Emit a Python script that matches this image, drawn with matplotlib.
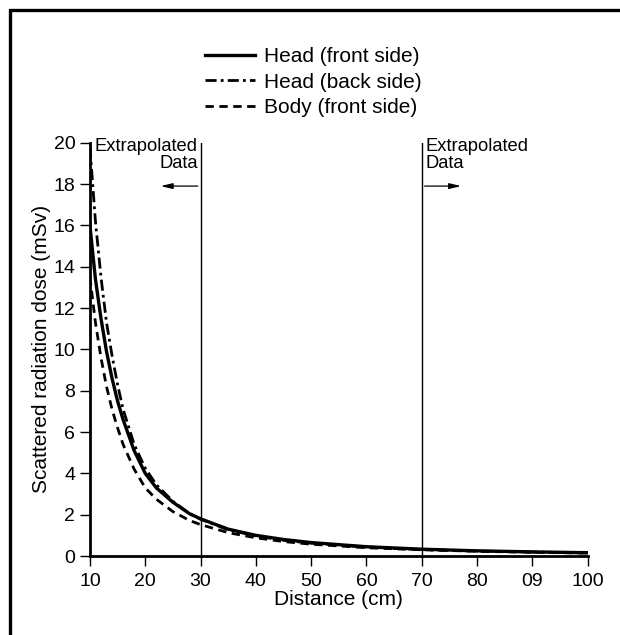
import matplotlib
matplotlib.use("Agg")
import matplotlib.pyplot as plt
from matplotlib.patches import Rectangle

plt.rcParams["font.family"] = ["Liberation Sans", "DejaVu Sans"]

# distance (cm) and dose (mSv)
distance = [10, 11, 12, 13, 14, 15, 16, 18, 20, 22, 25, 28, 30, 35, 40, 45, 50, 60, 70, 80, 90, 100]
head_front = [16.0, 13.4, 11.5, 9.9, 8.6, 7.5, 6.6, 5.1, 4.0, 3.3, 2.6, 2.05, 1.8, 1.3, 1.0, 0.8, 0.65, 0.45, 0.33, 0.25, 0.2, 0.16]
head_back = [19.8, 16.2, 13.5, 11.3, 9.7, 8.3, 7.1, 5.4, 4.25, 3.45, 2.65, 2.05, 1.78, 1.27, 0.97, 0.76, 0.62, 0.43, 0.31, 0.24, 0.19, 0.15]
body_front = [13.5, 11.3, 9.6, 8.2, 7.1, 6.2, 5.4, 4.2, 3.3, 2.75, 2.15, 1.72, 1.52, 1.13, 0.88, 0.7, 0.57, 0.4, 0.3, 0.23, 0.18, 0.14]

x_ticks = [10, 20, 30, 40, 50, 60, 70, 80, 90, 100]
x_tick_labels = ["10", "20", "30", "40", "50", "60", "70", "80", "09", "100"]
y_ticks = [0, 2, 4, 6, 8, 10, 12, 14, 16, 18, 20]
boundaries = [30, 70]

fig = plt.figure(figsize=(6.2, 6.35), dpi=100)
ax = fig.add_axes([0.145, 0.1244, 0.803, 0.6509])

ax.plot(distance, head_front, color="black", lw=2.4, ls="-", label="Head (front side)")
ax.plot(distance, head_back, color="black", lw=2.0, ls=(0, (4, 1.5, 1, 1.5)), label="Head (back side)")
ax.plot(distance, body_front, color="black", lw=2.0, ls=(0, (3, 2)), label="Body (front side)")

for b in boundaries:
    ax.axvline(b, color="black", lw=1.0)

arrow = dict(arrowstyle="-|>,head_length=0.7,head_width=0.17", color="black", lw=0.9)
ax.annotate("", xy=(22.3, 17.9), xytext=(30, 17.9), arrowprops=arrow)
ax.annotate("", xy=(77.6, 17.9), xytext=(70, 17.9), arrowprops=arrow)
ax.text(29.5, 20.25, "Extrapolated\nData", ha="right", va="top", fontsize=13.2, linespacing=1.05)
ax.text(70.6, 20.25, "Extrapolated\nData", ha="left", va="top", fontsize=13.2, linespacing=1.05)

ax.set_xlim(10, 100)
ax.set_ylim(0, 20)
ax.set_xticks(x_ticks)
ax.set_xticklabels(x_tick_labels)
ax.set_yticks(y_ticks)
ax.tick_params(direction="out", length=7.5, width=1, labelsize=14, pad=3)
ax.tick_params(axis="x", pad=5)
ax.spines["top"].set_visible(False)
ax.spines["right"].set_visible(False)
ax.spines["left"].set_linewidth(2)
ax.spines["bottom"].set_linewidth(2)
ax.set_xlabel("Distance (cm)", fontsize=15, labelpad=0)
ax.set_ylabel("Scattered radiation dose (mSv)", fontsize=15, labelpad=2)

fig.legend(loc="upper center", bbox_to_anchor=(0.505, 0.955), frameon=False,
           fontsize=15, handlelength=2.4, handletextpad=0.45, labelspacing=0.3)

fig.add_artist(Rectangle((10 / 620, -0.05), 1.2, 1 - 10 / 635 + 0.05, transform=fig.transFigure,
                         fill=False, edgecolor="black", lw=2.4))

fig.savefig("out.png", dpi=100)
